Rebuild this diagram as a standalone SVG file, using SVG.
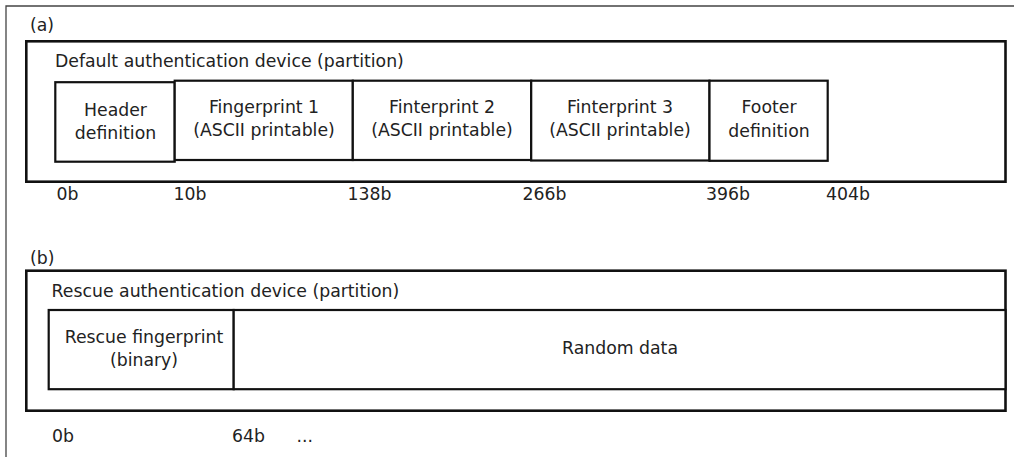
<svg xmlns="http://www.w3.org/2000/svg" width="1014" height="457" viewBox="0 0 1014 457">
<style>
text{font-family:"DejaVu Sans","Liberation Sans",sans-serif;font-size:17.3px;fill:#222}
.c{text-anchor:middle}
.outer{fill:none;stroke:#111;stroke-width:2.6}
.cell{fill:#fff;stroke:#111;stroke-width:2.2}
.frame{fill:none;stroke:#444;stroke-width:1.3}
</style>
<rect width="1014" height="457" fill="#fff"/>
<path class="frame" d="M6,457 V6 H1014"/>
<g id="panel-a">
<text x="30" y="30.5">(a)</text>
<g id="device-a">
<rect class="outer" x="26.3" y="41.3" width="979.2" height="140.4"/>
<text x="55" y="67">Default authentication device (partition)</text>
</g>
<g id="header">
<rect class="cell" x="55.3" y="82.2" width="119.4" height="79.5"/>
<text class="c" x="115.5" y="115.5">Header</text>
<text class="c" x="115.5" y="139">definition</text>
</g>
<g id="fp1">
<rect class="cell" x="174.7" y="80.7" width="178.1" height="79.3"/>
<text class="c" x="264" y="112.5">Fingerprint 1</text>
<text class="c" x="264" y="136">(ASCII printable)</text>
</g>
<g id="fp2">
<rect class="cell" x="352.8" y="80.7" width="178.4" height="79.3"/>
<text class="c" x="442" y="112.5">Finterprint 2</text>
<text class="c" x="442" y="136">(ASCII printable)</text>
</g>
<g id="fp3">
<rect class="cell" x="531.2" y="80.7" width="178.3" height="79.8"/>
<text class="c" x="620" y="112.5">Finterprint 3</text>
<text class="c" x="620" y="136">(ASCII printable)</text>
</g>
<g id="footer">
<rect class="cell" x="709.5" y="80.7" width="118.2" height="80.1"/>
<text class="c" x="769" y="113">Footer</text>
<text class="c" x="769" y="136.5">definition</text>
</g>
<g id="offsets-a">
<text x="56.5" y="199.5">0b</text>
<text x="173.5" y="199.5">10b</text>
<text x="347.5" y="199.5">138b</text>
<text x="522.5" y="199.5">266b</text>
<text x="706" y="199.5">396b</text>
<text x="826" y="199.5">404b</text>
</g>
</g>
<g id="panel-b">
<text x="30" y="263.5">(b)</text>
<g id="device-b">
<rect class="outer" x="26.3" y="270.7" width="979.2" height="140"/>
<text x="51.6" y="297">Rescue authentication device (partition)</text>
</g>
<g id="rescue-fp">
<rect class="cell" x="48.7" y="310" width="185" height="79.2"/>
<text class="c" x="144" y="342.5">Rescue fingerprint</text>
<text class="c" x="144" y="365.5">(binary)</text>
</g>
<g id="random">
<rect class="cell" x="233.7" y="310" width="771.8" height="79.2"/>
<text class="c" x="620" y="354.3">Random data</text>
</g>
<g id="offsets-b">
<text x="52" y="441.5">0b</text>
<text x="232" y="441.5">64b</text>
<text x="296.5" y="441.5">...</text>
</g>
</g>
<g id="connectors"></g>
</svg>
